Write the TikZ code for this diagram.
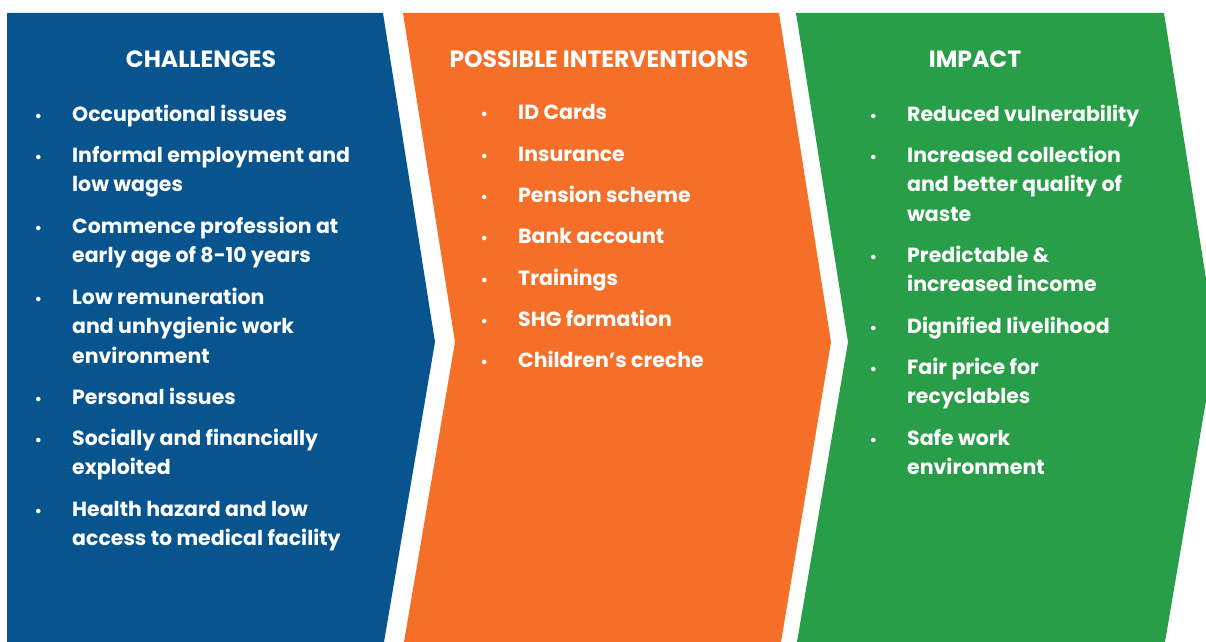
\documentclass[tikz,border=0pt]{standalone}
\usepackage{fontspec}
\setmainfont{Poppins}
\definecolor{chalblue}{RGB}{8,84,143}
\definecolor{intorange}{RGB}{245,111,40}
\definecolor{impgreen}{RGB}{40,158,72}
\newcommand{\bul}{\llap{{\fontsize{15bp}{15bp}\selectfont\textbullet}\hspace{30bp}}\rule{0pt}{17bp}}
\begin{document}
\begin{tikzpicture}[x=1bp,y=-1bp]
      \tikzstyle{title} = [anchor=base, inner sep=0, text=white, font=\fontsize{23.5bp}{26bp}\selectfont\bfseries]
      \tikzstyle{point} = [anchor=north west, inner sep=0, align=left, text=white, font=\fontsize{20.5bp}{29.5bp}\selectfont\bfseries]

      \useasboundingbox (0,0) rectangle (1206,642);
      \clip (0,0) rectangle (1206,642);

      % chevrons
      \fill [chalblue] (7,13) -- (383,13) -- (435,342) -- (384,642) -- (7,642) -- cycle;
      \fill [intorange] (403,13) -- (779,13) -- (831,342) -- (781,642) -- (404,642) -- (455,342) -- cycle;
      \fill [impgreen] (796,13) -- (1164,13) -- (1216,342) -- (1165,642) -- (797,642) -- (848,342) -- cycle;

      % challenges (y = baseline - 17)
      \node (chal-title) [title] at (201,68) {CHALLENGES};
      \node (chal-1) [point] at (72,104) {\bul Occupational issues};
      \node (chal-2) [point] at (72,145) {\bul Informal employment and\\low wages};
      \node (chal-3) [point] at (72,216) {\bul Commence profession at\\early age of 8-10 years};
      \node (chal-4) [point] at (72,287) {\bul Low remuneration\\and unhygienic work\\environment};
      \node (chal-5) [point] at (72,387) {\bul Personal issues};
      \node (chal-6) [point] at (72,428) {\bul Socially and financially\\exploited};
      \node (chal-7) [point] at (72,499) {\bul Health hazard and low\\access to medical facility};

      % possible interventions
      \node (int-title) [title] at (599,68) {POSSIBLE INTERVENTIONS};
      \node (int-1) [point] at (518,102) {\bul ID Cards};
      \node (int-2) [point] at (518,144) {\bul Insurance};
      \node (int-3) [point] at (518,185) {\bul Pension scheme};
      \node (int-4) [point] at (518,226) {\bul Bank account};
      \node (int-5) [point] at (518,268) {\bul Trainings};
      \node (int-6) [point] at (518,309) {\bul SHG formation};
      \node (int-7) [point] at (518,350) {\bul Children’s creche};

      % impact
      \node (imp-title) [title] at (975,68) {IMPACT};
      \node (imp-1) [point] at (907,104) {\bul Reduced vulnerability};
      \node (imp-2) [point] at (907,145) {\bul Increased collection\\and better quality of\\waste};
      \node (imp-3) [point] at (907,245) {\bul Predictable \&\\increased income};
      \node (imp-4) [point] at (907,316) {\bul Dignified livelihood};
      \node (imp-5) [point] at (907,357) {\bul Fair price for\\recyclables};
      \node (imp-6) [point] at (907,428) {\bul Safe work\\environment};
\end{tikzpicture}
\end{document}
